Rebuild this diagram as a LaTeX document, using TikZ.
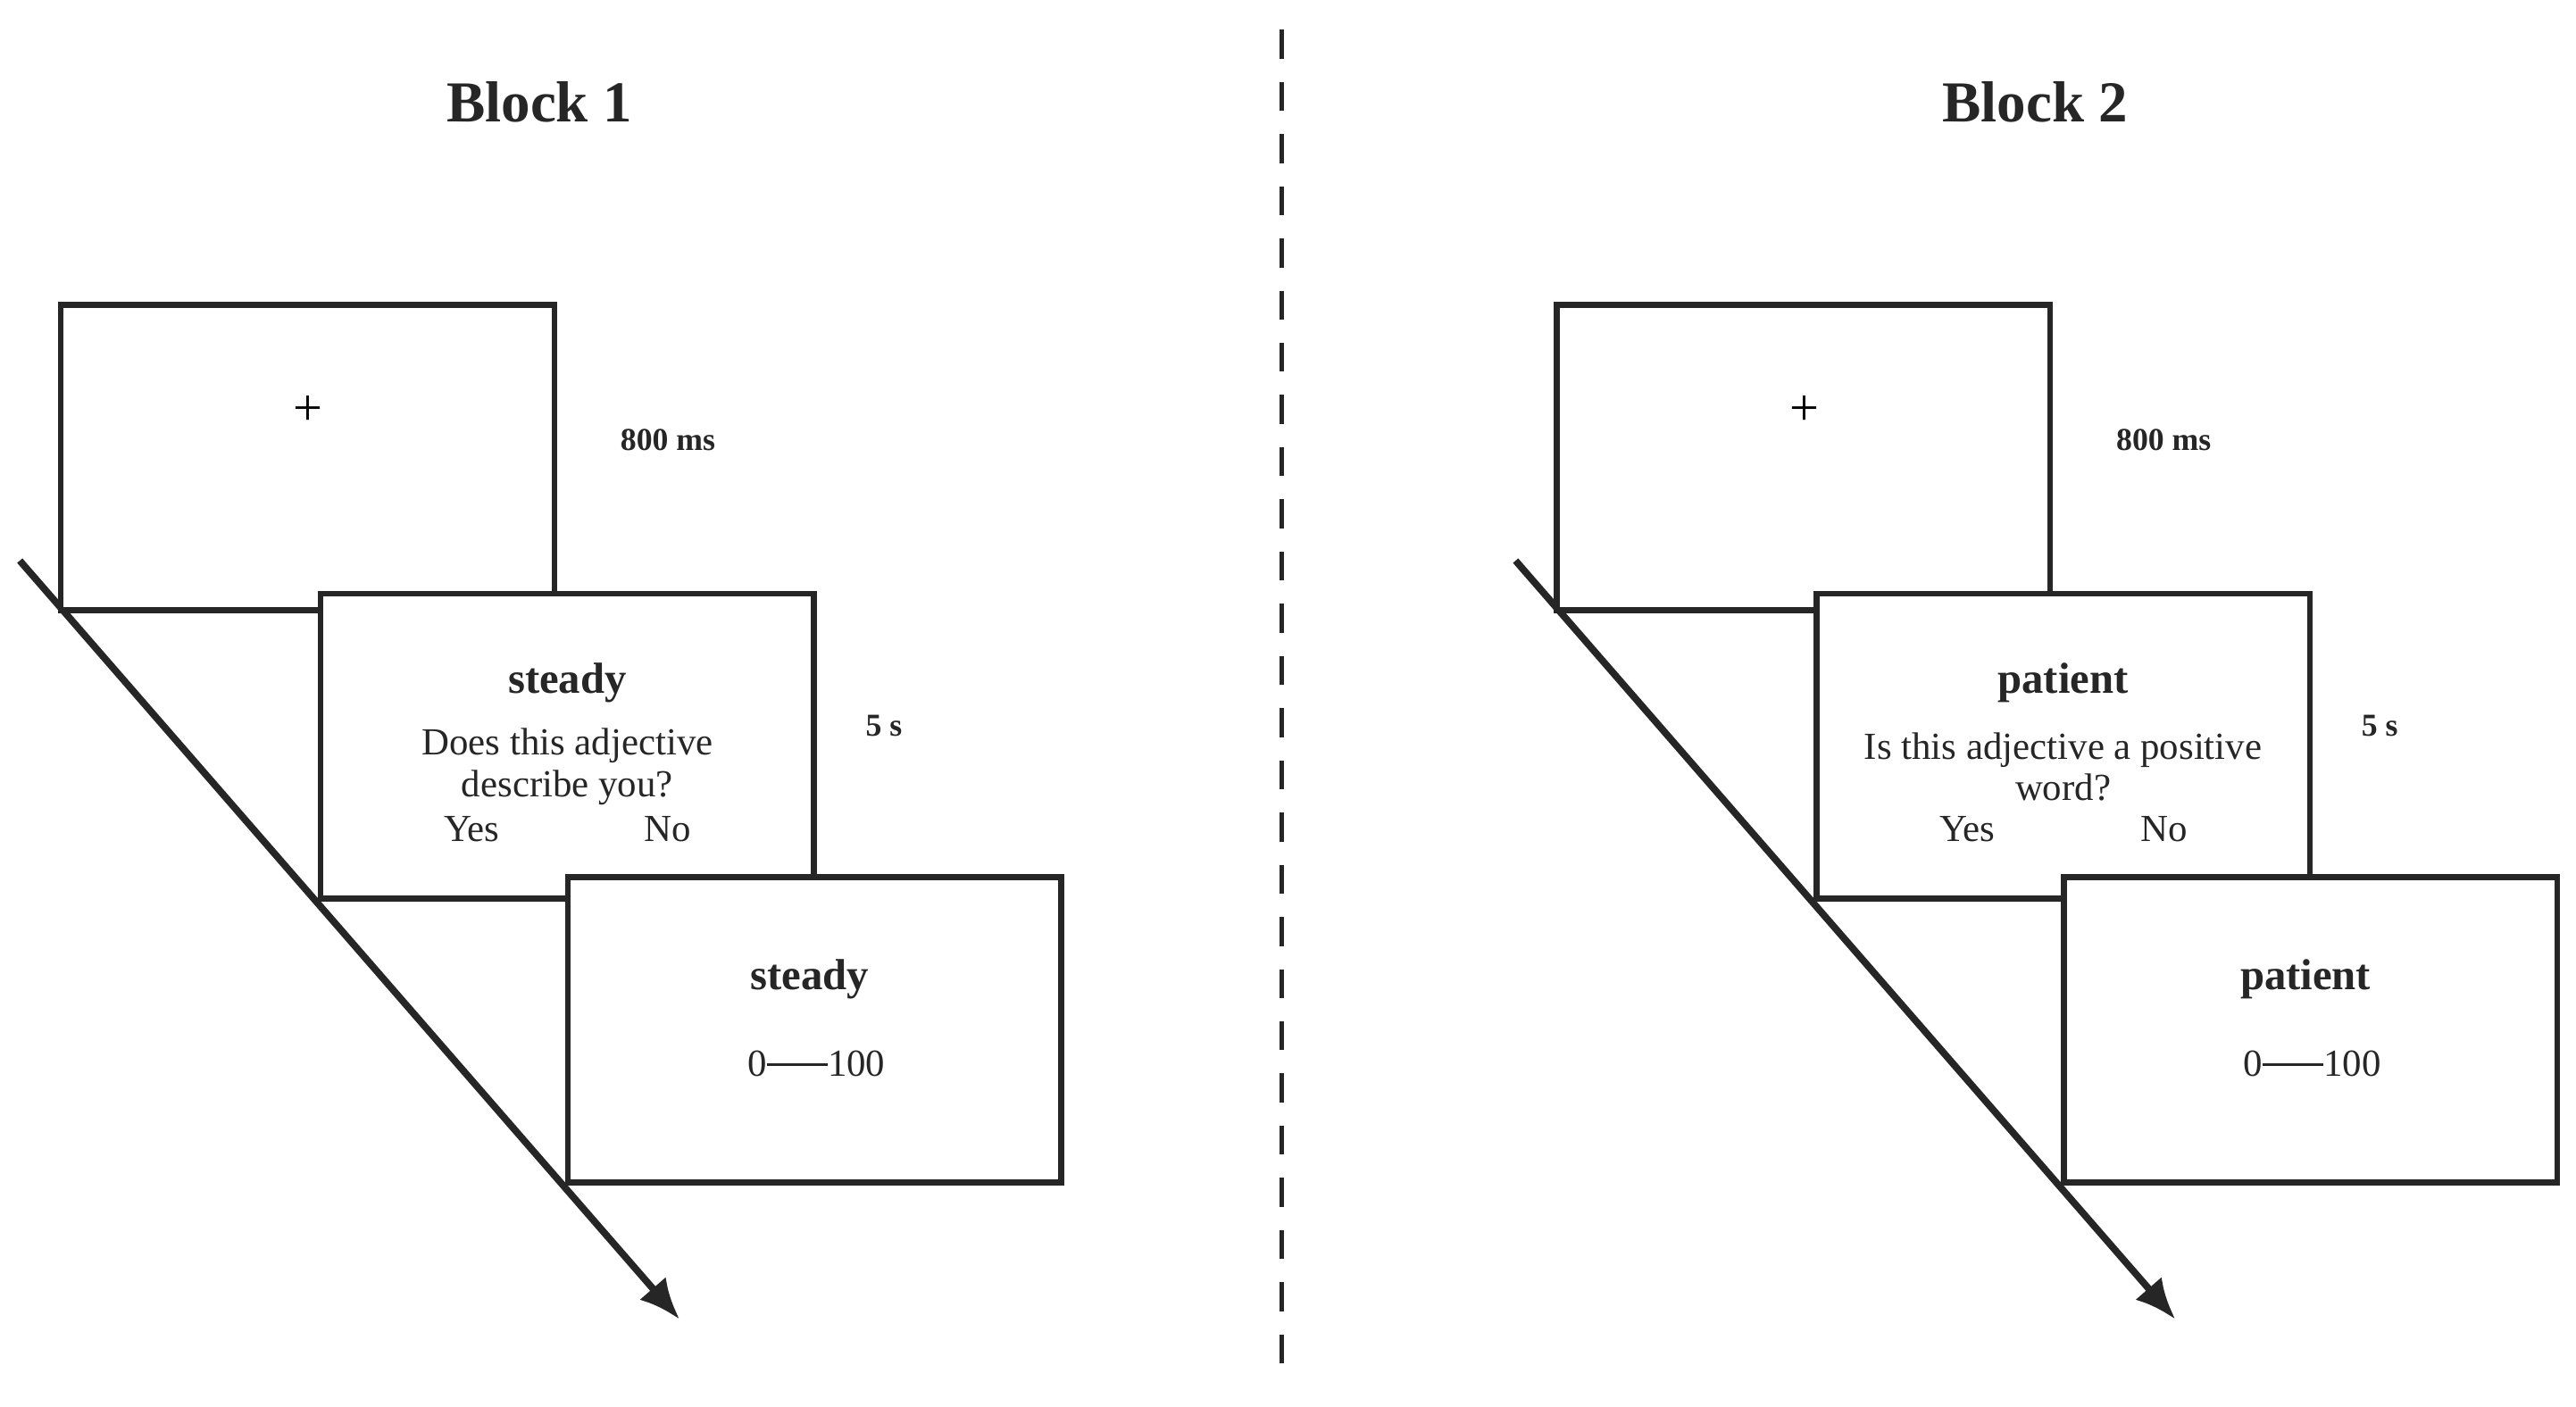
\documentclass[tikz,border=0pt]{standalone}
\usepackage{fontspec}
\setmainfont{Liberation Serif}
\usetikzlibrary{positioning,arrows.meta}
\begin{document}
\begin{tikzpicture}[x=0.01cm,y=-0.01cm,thick,
    screen/.style={draw=black!85,line width=1pt,fill=white,minimum width=2.99cm,minimum height=1.85cm,inner sep=0pt},
    title/.style={font=\fontsize{10}{12}\selectfont\bfseries,text=black!85},
    word/.style={font=\fontsize{7.5}{9}\selectfont\bfseries,text=black!85},
    txt/.style={font=\fontsize{6.6}{7.2}\selectfont,text=black!85,align=center},
    dur/.style={font=\fontsize{5.5}{7}\selectfont\bfseries,text=black!85}]
  \useasboundingbox (0,0) rectangle (1562,853);
  % separator
  \coordinate (top) at (777,18);
  \coordinate (bot) at (777,840);
  \draw[black!85,dashed,line width=0.8pt,dash pattern=on 5pt off 4pt] (top) -- (bot);
  \foreach \X/\dx/\word/\qa/\qb in {1/0/steady/Does this adjective/describe you?,
                                   2/907/patient/Is this adjective a positive/word?}
  {
    \begin{scope}[xshift=\dx*0.01cm]
      \node[title] (t\X) at (327,62) {Block \X};
      % timeline arrow
      \coordinate (a\X) at (12,340);
      \coordinate (b\X) at (412,800);
      \draw[black!85,line width=1.2pt,-{Latex[length=7pt,width=6pt]}] (a\X) -- (b\X);
      \node[screen] (s1\X) at (186.5,277.5) {};
      \node[font=\fontsize{9}{9}\selectfont] (fix\X) at (187,249) {+};
      \node[dur] (d1\X) at (405,267) {800 ms};
      \node[screen] (s2\X) at (344,452.5) {};
      \node[word] (w1\X) at (344,414) {\word};
      \node[txt] (q\X) at (344,465) {\qa\\\qb};
      \node[txt] (yes\X) at (286,503) {Yes};
      \node[txt] (no\X) at (405,503) {No};
      \node[dur] (d2\X) at (536,440) {5 s};
      \node[screen] (s3\X) at (494,624.5) {};
      \node[word] (w2\X) at (491,594) {\word};
      \node[txt] (r\X) at (495,645) {0\rule[0.6ex]{1.6em}{0.4pt}100};
    \end{scope}
  }
\end{tikzpicture}
\end{document}
